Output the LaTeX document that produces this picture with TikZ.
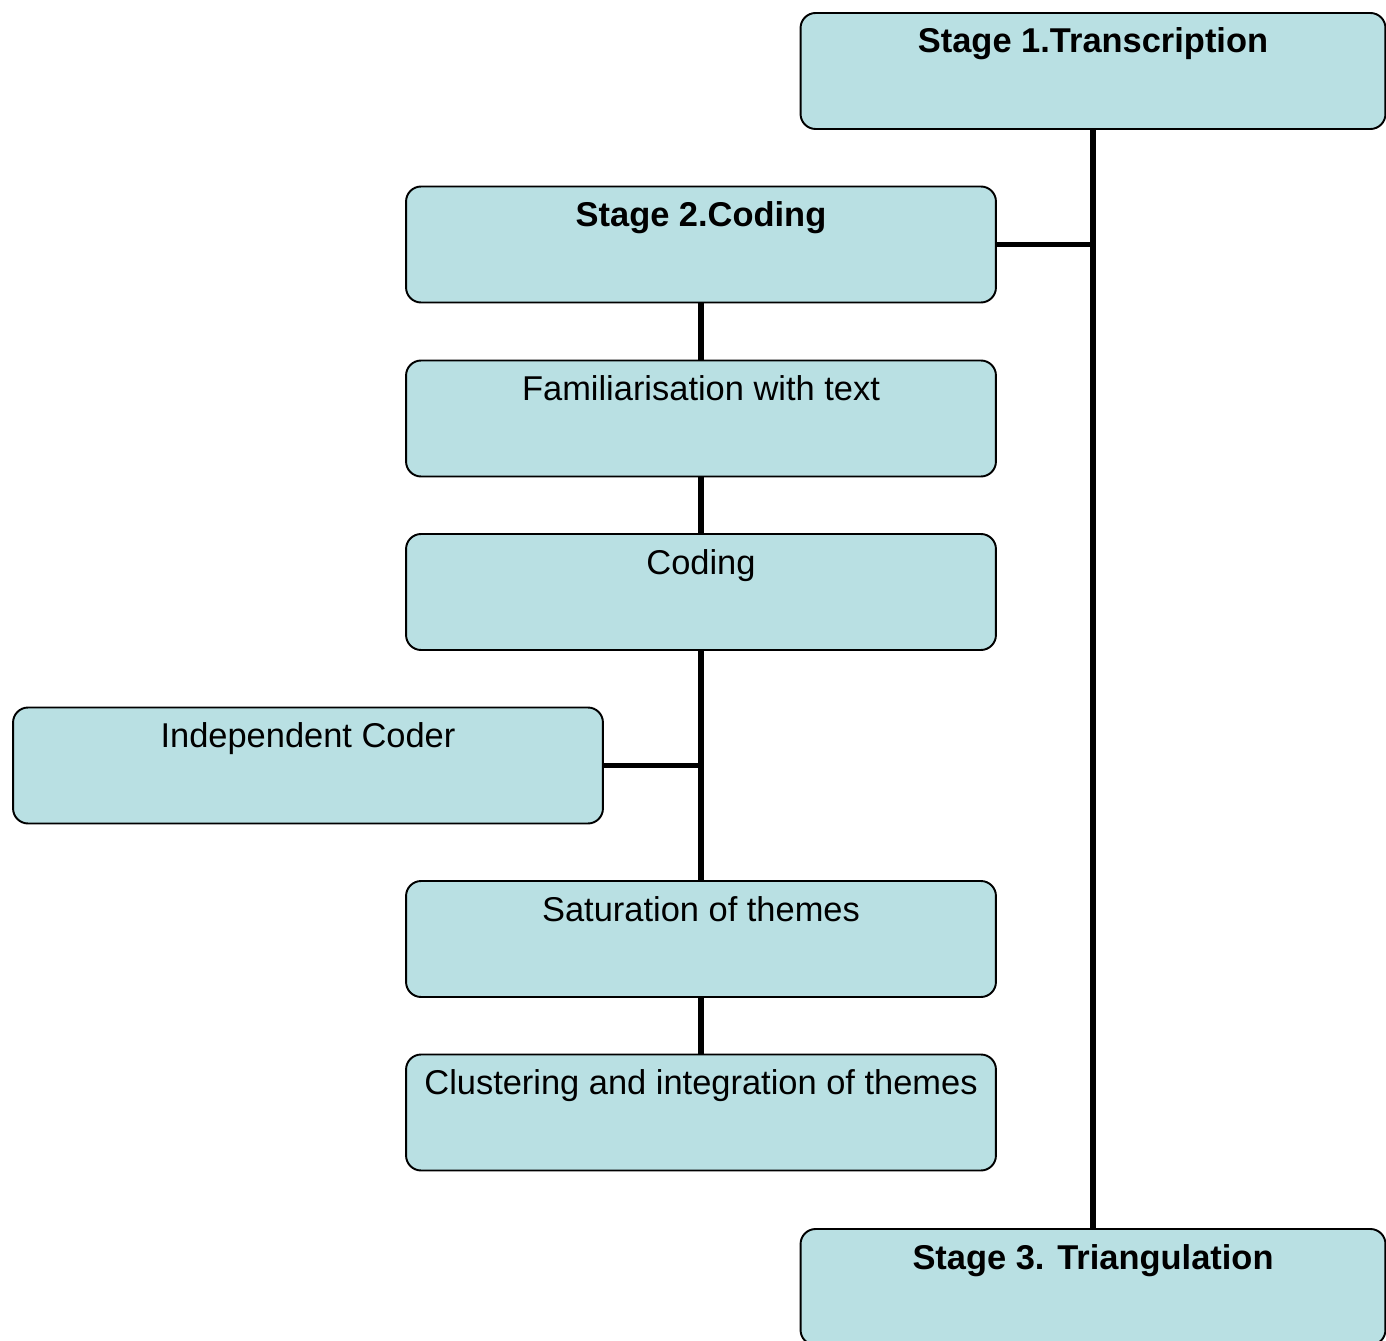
\documentclass[tikz,border=0pt]{standalone}
\usepackage{fontspec}
\setmainfont{Liberation Sans}
\definecolor{boxfill}{RGB}{185,224,227}
\begin{document}
\begin{tikzpicture}[x=0.02cm, y=-0.02cm,
    stagebox/.style={draw=black, line width=1.1pt, fill=boxfill, rounded corners=0.3cm, inner sep=0pt,
      minimum width=11.8cm, text height=0.8cm, text depth=1.52cm, font=\fontsize{19.6}{23}\selectfont},
    link/.style={line width=3.1pt}]
                \useasboundingbox (0,0) rectangle (1386,1341);
                \node[stagebox, minimum width=11.7cm, font=\fontsize{19.6}{23}\selectfont\bfseries] (s1) at (1093,71) {Stage 1.Transcription};
                \node[stagebox, font=\fontsize{19.6}{23}\selectfont\bfseries] (s2) at (701,244.5) {Stage 2.Coding};
                \node[stagebox] (fam) at (701,418.5) {Familiarisation with text};
                \node[stagebox] (cod) at (701,592) {Coding};
                \node[stagebox] (ind) at (308,765.5) {Independent Coder};
                \node[stagebox] (sat) at (701,939) {Saturation of themes};
                \node[stagebox] (clu) at (701,1112.5) {Clustering and integration of themes};
                \node[stagebox, minimum width=11.7cm, font=\fontsize{19.6}{23}\selectfont\bfseries] (s3) at (1093,1287) {Stage 3. Triangulation};
                \coordinate (j1) at (s1.south |- s2.east);
                \coordinate (j2) at (cod.south |- ind.east);
                \draw[link] (s1.south) -- (s3.north);
                \draw[link] (s2.east) -- (j1);
                \draw[link] (s2.south) -- (fam.north);
                \draw[link] (fam.south) -- (cod.north);
                \draw[link] (cod.south) -- (sat.north);
                \draw[link] (ind.east) -- (j2);
                \draw[link] (sat.south) -- (clu.north);
            \end{tikzpicture}
\end{document}
